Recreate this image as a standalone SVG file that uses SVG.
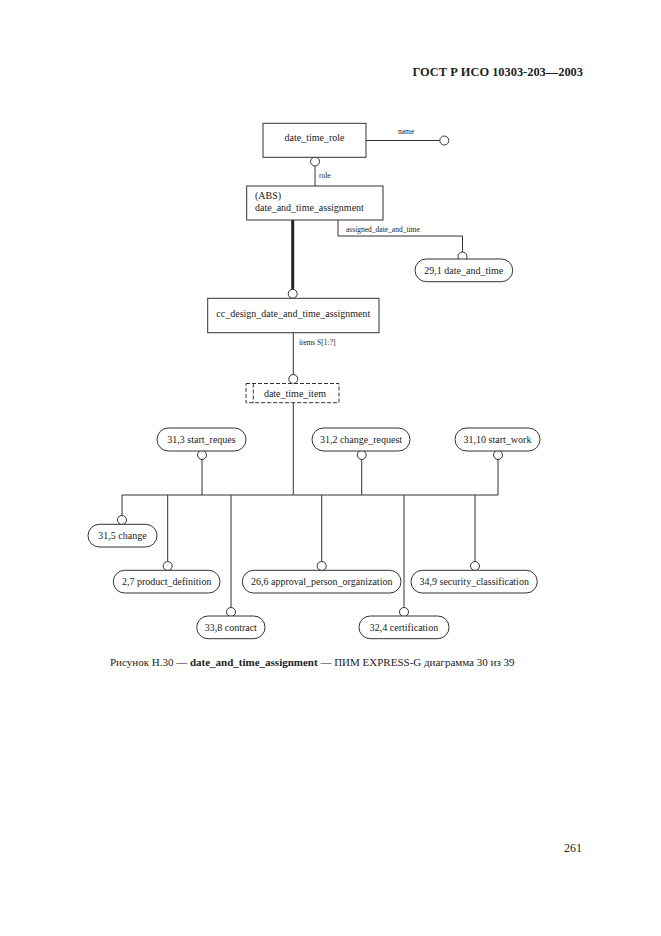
<svg xmlns="http://www.w3.org/2000/svg" width="661" height="936" viewBox="0 0 661 936">
<style>
.bx{fill:#fff;stroke:#333;stroke-width:1}
.rb{fill:#fff;stroke:#333;stroke-width:1}
.ln{fill:none;stroke:#333;stroke-width:1}
.ci{fill:#fff;stroke:#333;stroke-width:1}
.t{font-family:"Liberation Serif","Times New Roman",serif;font-size:10px;fill:#222}
.s{font-family:"Liberation Serif","Times New Roman",serif;font-size:7.5px;fill:#222}
.m{text-anchor:middle}
</style>
<rect width="661" height="936" fill="#fff"/>
<text x="583" y="76" text-anchor="end" style="font-family:'Liberation Serif',serif;font-weight:bold;font-size:12.4px;fill:#222">ГОСТ Р ИСО 10303-203—2003</text>
<g id="connectors">
<path class="ln" d="M366 140.5 H439.5"/>
<text class="s" x="398" y="134">name</text>
<path class="ln" d="M315 166 V186"/>
<text class="s" x="319" y="178">role</text>
<path d="M292.7 220 V289" fill="none" stroke="#222" stroke-width="3"/>
<path class="ln" d="M338 220 V236 H462.5 V252"/>
<text class="s" x="346" y="232">assigned_date_and_time</text>
<path class="ln" d="M293.3 332.7 V374.5"/>
<text class="s" x="299" y="345">items S[1:?]</text>
<path class="ln" d="M293.3 402.7 V495 M122 495 H498 M202 459.5 V495 M361.7 459.5 V495 M498 459.5 V495 M122 495 V515.5 M167.7 495 V561.5 M231 495 V607.5 M321.7 495 V561.5 M404 495 V607.5 M475 495 V561.5"/>
<circle class="ci" cx="444.3" cy="140.5" r="4.5"/>
<circle class="ci" cx="315" cy="161.5" r="4.5"/>
<circle class="ci" cx="292.7" cy="293.8" r="4.5"/>
<circle class="ci" cx="462.5" cy="256.5" r="4.5"/>
<circle class="ci" cx="293.3" cy="379" r="4.5"/>
<circle class="ci" cx="202" cy="455" r="4.5"/>
<circle class="ci" cx="361.7" cy="455" r="4.5"/>
<circle class="ci" cx="498" cy="455" r="4.5"/>
<circle class="ci" cx="122" cy="520" r="4.5"/>
<circle class="ci" cx="167.7" cy="566" r="4.5"/>
<circle class="ci" cx="231" cy="612" r="4.5"/>
<circle class="ci" cx="321.7" cy="566" r="4.5"/>
<circle class="ci" cx="404" cy="612" r="4.5"/>
<circle class="ci" cx="475" cy="566" r="4.5"/>
</g>
<g id="date_time_role">
<rect class="bx" x="263" y="123.3" width="103" height="34"/>
<text class="t m" x="314.5" y="140.5">date_time_role</text>
</g>
<g id="date_and_time_assignment">
<rect class="bx" x="246.7" y="186" width="136.3" height="34"/>
<text class="t" x="255" y="199">(ABS)</text>
<text class="t" x="255" y="211">date_and_time_assignment</text>
</g>
<g id="date_and_time">
<rect class="rb" x="415" y="259" width="97.7" height="22.7" rx="11.3"/>
<text class="t m" x="463.8" y="274">29,1 date_and_time</text>
</g>
<g id="cc_design_date_and_time_assignment">
<rect class="bx" x="207.7" y="298.3" width="171.3" height="34.4"/>
<text class="t m" x="293.3" y="317">cc_design_date_and_time_assignment</text>
</g>
<g id="date_time_item">
<rect x="246" y="383.5" width="93" height="19.2" fill="#fff" stroke="#333" stroke-dasharray="4,2"/>
<path d="M253.3 383.5 V402.7" fill="none" stroke="#333" stroke-dasharray="4,2"/>
<text class="t m" x="295" y="396.5">date_time_item</text>
</g>
<g id="start_reques">
<rect class="rb" x="157" y="428" width="89" height="23" rx="11.5"/>
<text class="t m" x="201.5" y="443">31,3 start_reques</text>
</g>
<g id="change_request">
<rect class="rb" x="312" y="428" width="98" height="23" rx="11.5"/>
<text class="t m" x="361" y="443">31,2 change_request</text>
</g>
<g id="start_work">
<rect class="rb" x="455" y="428" width="85" height="23" rx="11.5"/>
<text class="t m" x="497.5" y="443">31,10 start_work</text>
</g>
<g id="change">
<rect class="rb" x="88" y="524.3" width="69" height="22.7" rx="11.3"/>
<text class="t m" x="122.5" y="539">31,5 change</text>
</g>
<g id="product_definition">
<rect class="rb" x="113.3" y="570.3" width="106.7" height="22.7" rx="11.3"/>
<text class="t m" x="166.7" y="585">2,7 product_definition</text>
</g>
<g id="contract">
<rect class="rb" x="196.7" y="616" width="68.3" height="22.7" rx="11.3"/>
<text class="t m" x="230.8" y="631">33,8 contract</text>
</g>
<g id="approval_person_organization">
<rect class="rb" x="242.3" y="570.3" width="158.7" height="22.7" rx="11.3"/>
<text class="t m" x="321.7" y="585">26,6 approval_person_organization</text>
</g>
<g id="certification">
<rect class="rb" x="359" y="616" width="90" height="22.7" rx="11.3"/>
<text class="t m" x="404" y="631">32,4 certification</text>
</g>
<g id="security_classification">
<rect class="rb" x="411" y="570.3" width="126.3" height="22.7" rx="11.3"/>
<text class="t m" x="474.2" y="585">34,9 security_classification</text>
</g>
<text x="110" y="666" style="font-family:'Liberation Serif',serif;font-size:11px;fill:#222">Рисунок Н.30 — <tspan font-weight="bold">date_and_time_assignment</tspan> — ПИМ EXPRESS-G диаграмма 30 из 39</text>
<text x="582" y="852" text-anchor="end" style="font-family:'Liberation Serif',serif;font-size:12px;fill:#222">261</text>
</svg>
